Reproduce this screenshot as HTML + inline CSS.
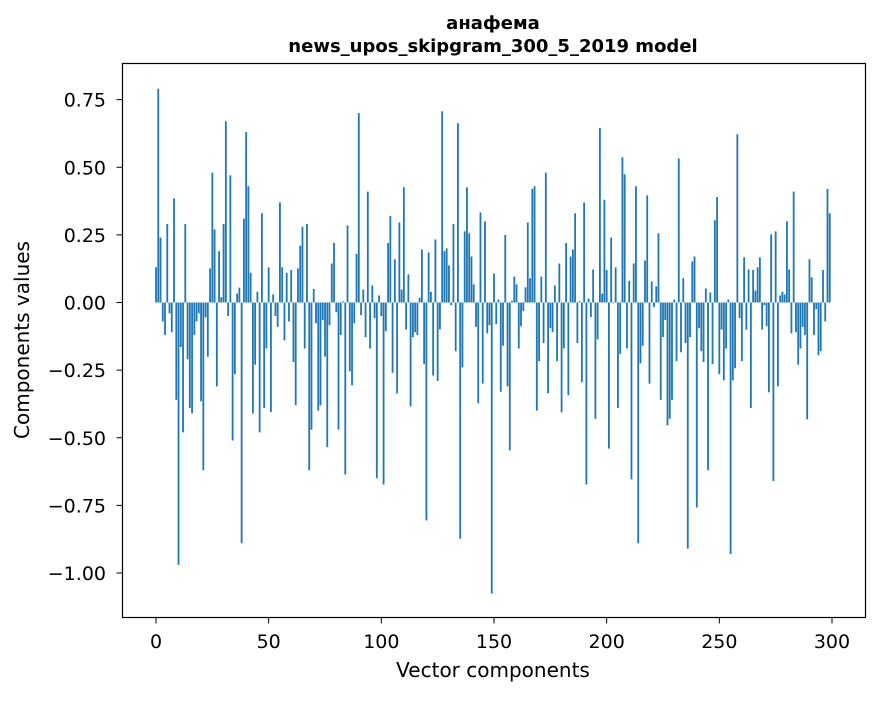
<!DOCTYPE html>
<html><head><meta charset="utf-8"><style>
body{margin:0;background:#fff}
svg text{font-family:"DejaVu Sans","Liberation Sans",sans-serif;fill:#000}
</style></head><body>
<svg id="chart" width="880" height="696" viewBox="0 0 880 696">
<text x="493" y="29" text-anchor="middle" font-size="18" font-weight="bold">анафема</text>
<text x="493" y="52" text-anchor="middle" font-size="18" font-weight="bold">news_upos_skipgram_300_5_2019 model</text>
<g id="bars"></g>
<g id="axes"></g>
<rect x="122.5" y="63.5" width="743" height="554" fill="none" stroke="#000" stroke-width="1.2"/>
<text x="493" y="677" text-anchor="middle" font-size="20">Vector components</text>
<text transform="translate(29,340) rotate(-90)" text-anchor="middle" font-size="20">Components values</text>
</svg>
<script>
const values = [0.13,0.79,0.24,-0.07,-0.12,0.29,-0.04,-0.11,0.385,-0.36,-0.97,-0.165,-0.48,0.29,-0.21,-0.39,-0.41,-0.12,-0.07,-0.04,-0.365,-0.62,-0.055,-0.2,0.126,0.48,0.27,-0.31,0.19,0.02,0.29,0.67,-0.05,0.47,-0.51,-0.265,0.033,0.055,-0.89,0.31,0.63,0.43,0.11,-0.41,-0.23,0.04,-0.48,0.33,-0.39,-0.17,
0.13,-0.405,0.03,-0.05,-0.09,0.37,0.13,-0.14,0.11,-0.07,0.12,-0.22,-0.38,0.126,0.21,0.28,-0.17,0.29,-0.62,-0.47,0.05,-0.077,-0.4,-0.38,-0.065,-0.2,-0.535,-0.084,0.144,0.22,-0.036,-0.47,-0.12,0.004,-0.636,0.285,-0.254,-0.306,-0.077,0.18,0.7,-0.047,0.048,-0.128,0.41,-0.17,0.063,-0.058,-0.65,0.026,
-0.05,-0.673,-0.106,0.22,0.32,-0.26,0.16,-0.336,0.296,0.048,0.426,-0.1,0.104,-0.384,-0.128,-0.11,-0.12,0.018,0.196,-0.228,-0.806,0.185,0.04,-0.27,0.233,-0.29,-0.1,0.707,0.19,0.2,0.137,-0.01,0.29,-0.18,0.663,-0.873,-0.24,0.263,0.426,0.256,0.17,0.067,-0.09,-0.373,0.333,-0.3,0.3,-0.114,-0.084,-1.076,
0.107,-0.08,0.011,-0.33,-0.16,0.25,-0.31,-0.547,0.006,0.096,0.067,-0.17,-0.088,-0.032,0.056,0.296,0.09,0.42,0.43,-0.4,-0.217,0.096,-0.15,0.48,-0.336,-0.095,-0.11,0.063,-0.217,0.144,-0.406,-0.17,0.22,-0.343,0.17,0.196,0.33,-0.15,0.005,-0.295,0.37,-0.673,0.015,-0.054,0.122,-0.43,-0.136,0.645,0.033,0.38,
0.12,-0.54,0.24,-0.003,0.13,-0.39,-0.19,0.537,0.474,-0.17,0.08,-0.654,0.144,0.43,-0.89,-0.225,-0.16,0.155,0.396,-0.3,0.078,-0.017,0.06,0.256,-0.36,-0.128,-0.065,-0.454,-0.43,-0.36,0.011,-0.217,0.533,-0.184,0.09,-0.15,-0.91,-0.128,0.152,0.17,-0.758,-0.095,-0.18,-0.22,0.052,-0.62,0.037,-0.228,0.304,0.39,
-0.265,-0.1,-0.288,-0.17,0.011,-0.93,-0.288,-0.243,0.622,-0.058,-0.217,0.167,-0.1,0.122,-0.39,0.12,0.044,0.13,0.167,-0.1,-0.01,-0.088,-0.332,0.252,-0.66,0.263,-0.31,0.026,0.04,0.03,0.3,0.122,-0.114,0.41,-0.11,-0.23,-0.17,-0.09,-0.12,-0.432,0.16,0.093,-0.12,-0.025,-0.195,-0.18,0.12,-0.07,0.42,0.33];
const xTicks = [0,50,100,150,200,250,300];
const yTicks = [0.75,0.5,0.25,0,-0.25,-0.5,-0.75,-1.0];
const yTickLabels = ["0.75","0.50","0.25","0.00","\u22120.25","\u22120.50","\u22120.75","\u22121.00"];

const NS = "http://www.w3.org/2000/svg";
function xs(v){ return 156 + v * 2.2533; }
function ys(v){ return 302.5 - v * 270.5; }
const bars = document.getElementById('bars');
values.forEach((v, i) => {
  const r = document.createElementNS(NS, 'rect');
  
  
  const x0 = xs(i - 0.4), x1 = xs(i + 0.4);
  const y0 = ys(Math.max(v, 0)), y1 = ys(Math.min(v, 0));
  r.setAttribute('x', x0);
  r.setAttribute('width', x1 - x0);
  r.setAttribute('y', y0);
  r.setAttribute('height', Math.max(y1 - y0, 0.3));
  r.setAttribute('fill', '#1f77b4');
  bars.appendChild(r);
});
const axes = document.getElementById('axes');
xTicks.forEach(t => {
  const l = document.createElementNS(NS, 'line');
  
  
  l.setAttribute('x1', xs(t)); l.setAttribute('x2', xs(t));
  l.setAttribute('y1', 617.5); l.setAttribute('y2', 623.5);
  l.setAttribute('stroke', '#000');
  axes.appendChild(l);
  const tx = document.createElementNS(NS, 'text');
  
  
  tx.setAttribute('x', xs(t)); tx.setAttribute('y', 648);
  tx.setAttribute('text-anchor', 'middle');
  tx.setAttribute('font-size', '19');
  tx.textContent = String(t);
  axes.appendChild(tx);
});
yTicks.forEach((t, i) => {
  const l = document.createElementNS(NS, 'line');
  
  
  l.setAttribute('x1', 116.5); l.setAttribute('x2', 122.5);
  l.setAttribute('y1', ys(t)); l.setAttribute('y2', ys(t));
  l.setAttribute('stroke', '#000');
  axes.appendChild(l);
  const tx = document.createElementNS(NS, 'text');
  
  
  tx.setAttribute('x', 106); tx.setAttribute('y', ys(t) + 7);
  tx.setAttribute('text-anchor', 'end');
  tx.setAttribute('font-size', '19');
  tx.textContent = yTickLabels[i];
  axes.appendChild(tx);
});
</script>
</body></html>
